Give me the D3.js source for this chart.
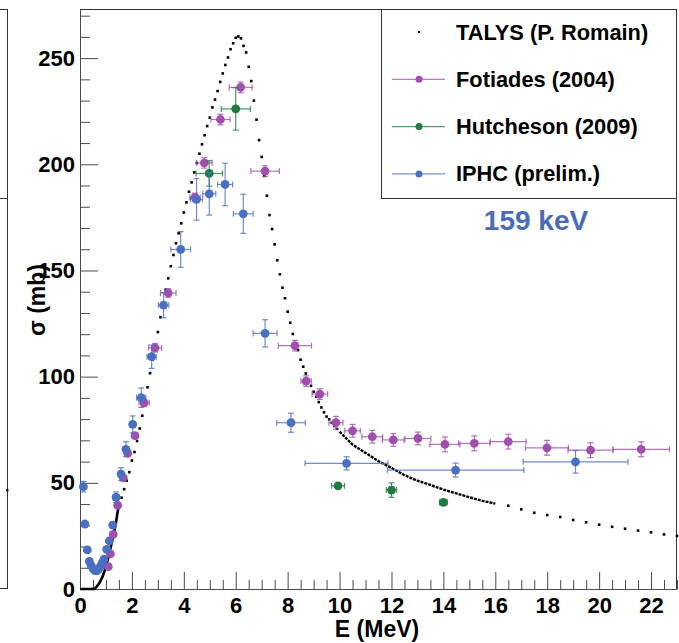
<!DOCTYPE html>
<html><head><meta charset="utf-8">
<script src="https://cdn.jsdelivr.net/npm/d3@7"></script>
<style>
body{margin:0;background:#fff}
svg{display:block;font-family:"Liberation Sans",Arial,Helvetica,sans-serif;font-weight:bold}
</style>
</head><body>
<svg id="c" width="679" height="643"></svg>
<script>
// ---------------- data ----------------
const xTickValues = [0,2,4,6,8,10,12,14,16,18,20,22];
const yTickValues = [0,50,100,150,200,250];
const seriesNames = ["TALYS (P. Romain)","Fotiades (2004)","Hutcheson (2009)","IPHC (prelim.)"];
const seriesColors = ["#000000","#a14fae","#1e7a3e","#4a6fc2"];

// TALYS calculation: dense segments (drawn as continuous line) and sparse dots
const talysLowE = [0,0.3,0.55,0.62,0.74,0.87,0.98,1.07,1.16,1.26,1.36,1.45,1.5];
const talysLowS = [0,0,0,0.8,2.7,5.8,9.7,13.7,18.4,23.9,29.3,36.4,39];
const talysHighE = [10.0,10.5,11.0,11.5,12.0,12.5,13.0,13.5,14.0,14.5,15.0,15.5,16.0];
const talysHighS = [74.1,68.0,64.1,60.2,57.0,53.6,51.0,49.0,46.8,45.0,43.2,41.5,40.2];
const talysDotE = [1.6,1.7,1.8,1.9,2.0,2.1,2.2,2.3,2.4,2.5,2.6,2.7,2.8,2.9,3.0,3.1,3.2,3.3,3.4,3.5,3.6,3.7,3.8,3.9,
  4.0,4.1,4.2,4.3,4.4,4.5,4.6,4.7,4.8,4.9,5.0,5.1,5.2,5.3,5.4,5.5,5.6,5.7,5.8,5.9,6.0,6.1,6.2,6.3,6.4,6.5,6.6,6.7,
  6.8,6.9,7.0,7.1,7.2,7.3,7.4,7.5,7.6,7.7,7.8,7.9,8.0,8.1,8.2,8.3,8.4,8.5,8.6,8.7,8.8,8.9,9.0,9.1,9.2,9.3,9.4,9.5,
  9.6,9.7,9.8,9.9,
  16.5,17.0,17.5,18.0,18.5,19.0,19.5,20.0,20.5,21.0,21.5,22.0,22.5,23.0];
const talysDotS = [43,47,51,55,60.5,64.5,69.7,75.6,81.6,88,95,101.6,108,115,121,128,134.5,141,146.3,152,157.3,162.8,167.5,172.2,
  177.3,182.1,187.1,191.5,196.2,200.6,205,209.4,213.7,218,222,226.8,230.5,234.5,238.8,242.8,246.8,250.3,254.2,257,259.6,260.2,259.3,255.8,252.7,245.9,239.2,230,
  221,211.4,203.5,194.5,185.2,176.1,169.5,162.3,154.8,148.2,141.9,136.9,130.6,125.4,120.1,115.7,112.5,108,104.7,101.5,98.5,95.7,92.9,90.5,88,85.5,83.2,81.2,
  79.9,78.3,76.8,75.4,
  39.2,37.5,35.9,34.8,33.9,32.5,31.4,30.3,29.3,28.4,27.5,26.7,25.7,25.0];

// Fotiades (2004)
const fotE  = [1.09,1.17,1.28,1.45,1.67,1.84,2.12,2.47,2.89,3.40,4.43,4.79,5.41,6.19,7.13,8.28,8.71,9.24,9.86,10.50,11.26,12.07,13.02,14.06,15.19,16.50,17.99,19.67,21.62];
const fotS  = [10.5,16.5,25.7,39.4,52.3,63.9,72.2,87.7,113.6,139.4,184.4,200.7,221.1,236.2,196.8,114.6,97.9,91.8,78.3,74.5,71.7,70.2,70.9,68.1,68.6,69.4,66.5,65.4,65.8];
const fotDE = [0,0,0,0,0,0,0.1,0.2,0.25,0.3,0.2,0.3,0.37,0.44,0.55,0.64,0.2,0.3,0.27,0.3,0.4,0.42,0.5,0.58,0.6,0.69,0.83,0.87,1.09];
const fotDS = [0,0,0,0,0,0,0,1.5,2,2,2,2.5,2.5,2.5,2.5,2.5,2.5,2.5,3,3,3,3,3,3.5,3.5,3.5,3.5,3.5,3.5];

// Hutcheson (2009)
const hutE  = [4.98,6.0,9.94,12.0,14.0];
const hutS  = [195.7,226.1,48.6,46.6,40.8];
const hutDE = [0.51,0.56,0.25,0.2,0.15];
const hutDS = [6,10,1,3.4,1];

// IPHC (prelim.)
const iphE  = [0.13,0.19,0.28,0.36,0.43,0.50,0.57,0.64,0.71,0.78,0.85,0.92,1.03,1.13,1.26,1.39,1.58,1.77,2.03,2.36,2.76,3.22,3.88,4.49,4.98,5.59,6.29,7.13,8.13,10.27,14.47,19.09];
const iphS  = [48.2,30.6,18.4,13.0,11.0,9.6,8.7,8.5,9.2,10.5,12.2,14.0,18.7,22.6,30.1,43.2,54.1,65.8,77.5,90.1,109.4,133.7,159.9,183.5,186.1,190.5,176.7,120.4,78.3,59.2,56.0,59.9];
const iphDE = [0,0,0,0,0,0,0,0,0,0,0,0,0,0,0,0.12,0.1,0.1,0.1,0.18,0.18,0.2,0.38,0.23,0.25,0.29,0.38,0.46,0.55,1.6,2.63,2.02];
const iphDS = [2.5,0,0,0,0,0,0,0,0,0,0,0,0,0,0,2.5,3,3.5,4,4.6,5.5,6,8.4,9.8,10,10,9.2,6.4,4.5,3.1,3.3,5.3];

const energyLabel = "159 keV";

// ---------------- drawing ----------------
const svg = d3.select("#c");
const x = d3.scaleLinear().domain([0,23]).range([80,677]);
const y = d3.scaleLinear().domain([0,273]).range([589,9.3]);
const axisColor = "#4a4a4a";

// neighbouring panel remnant at the far left
const rem = svg.append("g").attr("stroke","#333").attr("stroke-width",1).attr("fill","none");
rem.append("line").attr("x1",7.5).attr("x2",7.5).attr("y1",9).attr("y2",589);
rem.append("line").attr("x1",0).attr("x2",7.5).attr("y1",9.5).attr("y2",9.5);
rem.append("line").attr("x1",0).attr("x2",7.5).attr("y1",198.5).attr("y2",198.5);
rem.append("line").attr("x1",0).attr("x2",7.5).attr("y1",588.5).attr("y2",588.5);
svg.append("rect").attr("x",6).attr("y",489).attr("width",2.5).attr("height",2.5).attr("fill","#222");

// frame (top & right)
svg.append("path").attr("d",`M80,9.5H676.5V589`).attr("fill","none").attr("stroke","#333").attr("stroke-width",1);

// X axis
const xMinor = d3.range(0,23.001,0.5).filter(v => Math.abs(v/2 - Math.round(v/2))>1e-6);
const gx = svg.append("g").attr("transform","translate(0,589)");
gx.call(d3.axisBottom(x).tickValues(xTickValues).tickSizeInner(-17).tickSizeOuter(0).tickPadding(8).tickFormat(d3.format("d")));
const gxm = svg.append("g").attr("transform","translate(0,589)");
gxm.call(d3.axisBottom(x).tickValues(xMinor).tickSizeInner(-9).tickSizeOuter(0).tickFormat(""));
gxm.select(".domain").remove();

// Y axis
const yMinor = d3.range(0,271,10).filter(v => v%50!==0);
const gy = svg.append("g").attr("transform","translate(80,0)");
gy.call(d3.axisLeft(y).tickValues(yTickValues).tickSizeInner(-18).tickSizeOuter(0).tickPadding(5).tickFormat(d3.format("d")));
const gym = svg.append("g").attr("transform","translate(80,0)");
gym.call(d3.axisLeft(y).tickValues(yMinor).tickSizeInner(-10).tickSizeOuter(0).tickFormat(""));
gym.select(".domain").remove();

svg.selectAll(".domain, .tick line").attr("stroke",axisColor).attr("stroke-width",1);
svg.selectAll(".tick text").attr("fill","#000").style("font-size","22px").style("font-weight","bold")
   .style("font-family",'"Liberation Sans",Arial,sans-serif');

// axis titles
svg.append("text").attr("x",377).attr("y",637).attr("text-anchor","middle")
  .style("font-size","23px").text("E (MeV)");
svg.append("text").attr("transform","translate(45,300) rotate(-90)").attr("text-anchor","middle")
  .style("font-size","23px").text("σ (mb)");

// TALYS
const line = d3.line().x(d=>x(d[0])).y(d=>y(d[1]));
svg.append("path").datum(talysLowE.map((e,i)=>[e,talysLowS[i]]))
  .attr("d",line).attr("fill","none").attr("stroke","#000").attr("stroke-width",2.6);
svg.append("path").datum(talysHighE.map((e,i)=>[e,talysHighS[i]]))
  .attr("d",line).attr("fill","none").attr("stroke","#000").attr("stroke-width",2.4).attr("stroke-dasharray","3,1");
svg.append("g").selectAll("rect").data(talysDotE.map((e,i)=>[e,talysDotS[i]])).join("rect")
  .attr("x",d=>x(d[0])-1.3).attr("y",d=>y(d[1])-1.3).attr("width",2.6).attr("height",2.6).attr("fill","#000");

// data series with error bars
function drawSeries(E,S,DE,DS,color){
  const g = svg.append("g");
  const eb = g.append("g").attr("stroke",color).attr("stroke-width",1.2).attr("stroke-opacity",0.8).attr("fill","none");
  E.forEach((e,i)=>{
    const cx=x(e), cy=y(S[i]);
    if(DE[i]>0){
      const x0=x(e-DE[i]), x1=x(e+DE[i]);
      eb.append("line").attr("x1",x0).attr("x2",x1).attr("y1",cy).attr("y2",cy);
      eb.append("line").attr("x1",x0).attr("x2",x0).attr("y1",cy-3).attr("y2",cy+3);
      eb.append("line").attr("x1",x1).attr("x2",x1).attr("y1",cy-3).attr("y2",cy+3);
    }
    if(DS[i]>0){
      const y0=y(S[i]-DS[i]), y1=y(S[i]+DS[i]);
      eb.append("line").attr("x1",cx).attr("x2",cx).attr("y1",y0).attr("y2",y1);
      eb.append("line").attr("x1",cx-3).attr("x2",cx+3).attr("y1",y0).attr("y2",y0);
      eb.append("line").attr("x1",cx-3).attr("x2",cx+3).attr("y1",y1).attr("y2",y1);
    }
  });
  g.append("g").selectAll("circle").data(E.map((e,i)=>[e,S[i]])).join("circle")
    .attr("cx",d=>x(d[0])).attr("cy",d=>y(d[1])).attr("r",4.4).attr("fill",color);
}
drawSeries(fotE,fotS,fotDE,fotDS,seriesColors[1]);
drawSeries(hutE,hutS,hutDE,hutDS,seriesColors[2]);
drawSeries(iphE,iphS,iphDE,iphDS,seriesColors[3]);

// legend
const lg = svg.append("g");
lg.append("rect").attr("x",381.5).attr("y",9.5).attr("width",295).attr("height",189)
  .attr("fill","#fff").attr("stroke","#333").attr("stroke-width",1);
seriesNames.forEach((name,i)=>{
  const cy = 32 + i*47.3;
  if(i===0){
    lg.append("rect").attr("x",418).attr("y",cy-1).attr("width",2).attr("height",2).attr("fill","#000");
  } else {
    lg.append("line").attr("x1",392).attr("x2",445).attr("y1",cy).attr("y2",cy)
      .attr("stroke",seriesColors[i]).attr("stroke-opacity",0.75).attr("stroke-width",1.2);
    lg.append("circle").attr("cx",419).attr("cy",cy).attr("r",3.5).attr("fill",seriesColors[i]);
  }
  lg.append("text").attr("x",456).attr("y",cy+7.5).style("font-size","21.8px").attr("fill","#000").text(name);
});

svg.append("text").attr("x",536).attr("y",230).attr("text-anchor","middle")
  .style("font-size","28px").attr("fill","#4a6cb8").text(energyLabel);
</script>
</body></html>
